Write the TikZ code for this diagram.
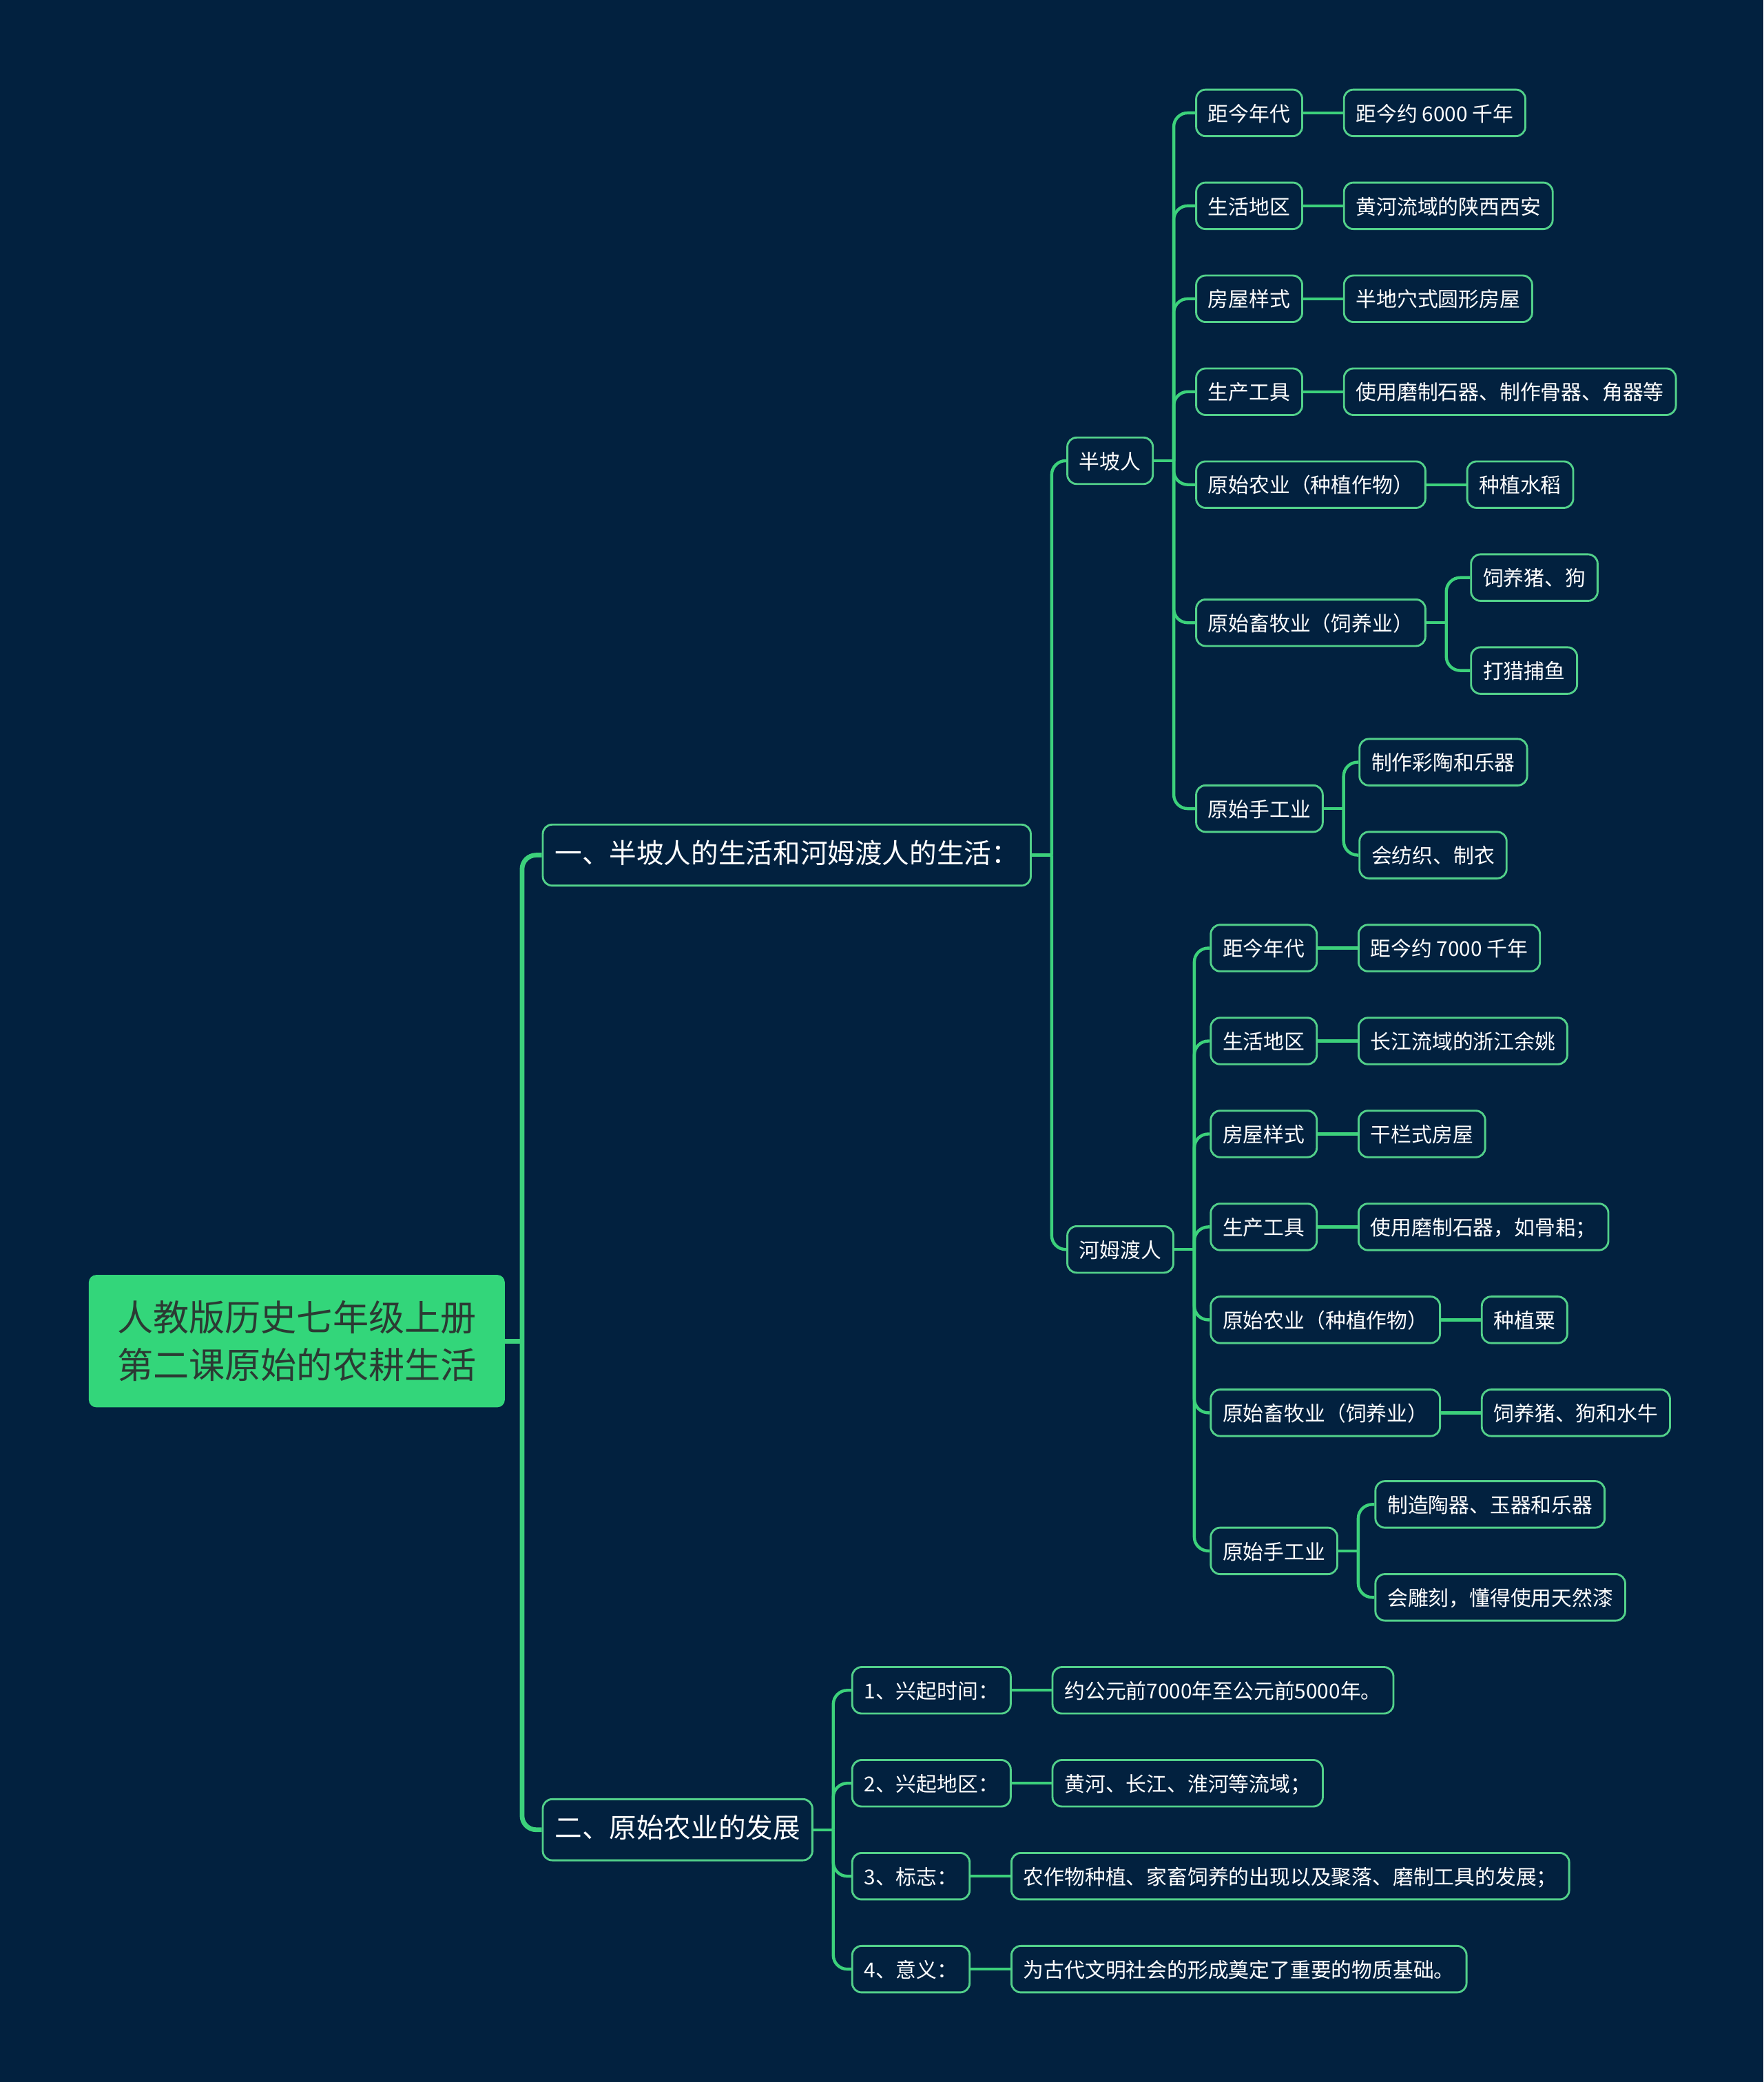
\documentclass[tikz,border=0pt]{standalone}
\usepackage{fontspec}
\setmainfont{Noto Sans CJK SC}
\usepackage{tikz}
\usetikzlibrary{positioning}
\definecolor{bg}{HTML}{02213F}
\definecolor{lnk}{HTML}{3CD17B}
\definecolor{rim}{HTML}{52D08A}
\definecolor{rootfill}{HTML}{33D67A}
\definecolor{roottext}{HTML}{2B3A33}
\tikzset{
  root/.style={fill=rootfill, draw=rootfill, rounded corners=3pt, text=roottext, align=center,
               font=\fontsize{15.4}{20.5}\selectfont, inner xsep=0.42cm, minimum height=1.98cm},
  sect/.style={draw=rim, line width=0.85pt, rounded corners=4pt, text=white, anchor=west,
               font=\fontsize{11.7}{14}\selectfont, inner xsep=0.18cm, minimum height=0.92cm,
               text height=0.86em, text depth=0.14em},
  topic/.style={draw=rim, line width=0.85pt, rounded corners=4pt, text=white,
                font=\fontsize{8.8}{11}\selectfont, inner xsep=0.18cm, minimum height=0.7cm,
                text height=0.86em, text depth=0.14em},
  key/.style={topic, anchor=west},
  l/.style={draw=lnk, line width=1.3pt, rounded corners=6pt},
  lroot/.style={l, line width=2pt},
}

\begin{document}
\begin{tikzpicture}[x=0.02cm, y=-0.02cm, node distance=6mm]
  \fill[bg] (0,0) rectangle (1328,1568);
  \useasboundingbox (0,0) rectangle (1328,1568);

  \node[root] (root) at (223.5,1010) {人教版历史七年级上册\\第二课原始的农耕生活};
  \node[sect] (s1) at (408,644) {一、半坡人的生活和河姆渡人的生活：};
  \node[sect] (s2) at (408,1378) {二、原始农业的发展};
  \draw[lroot] (root.east) -- ++(13,0) coordinate (rootj);
  \draw[lroot] (rootj) |- (s1.west);
  \draw[lroot] (rootj) |- (s2.west);

  % 半坡人 / 河姆渡人
  \node[key] (bp) at (803,347) {半坡人};
  \node[key] (hm) at (803,941) {河姆渡人};
  \draw[l] (s1.east) -- ++(15,0) coordinate (s1j);
  \draw[l] (s1j) |- (bp.west);
  \draw[l] (s1j) |- (hm.west);

  % 半坡人
  \node[key] (bp1) at (900,85) {距今年代};
  \node[key] (bp2) at (900,155) {生活地区};
  \node[key] (bp3) at (900,225) {房屋样式};
  \node[key] (bp4) at (900,295) {生产工具};
  \node[key] (bp5) at (900,365) {原始农业（种植作物）};
  \node[key] (bp6) at (900,469) {原始畜牧业（饲养业）};
  \node[key] (bp7) at (900,609) {原始手工业};
  \draw[l] (bp.east) -- ++(15,0) coordinate (bpj);
  \draw[l] (bpj) |- (bp1.west);
  \draw[l] (bpj) |- (bp2.west);
  \draw[l] (bpj) |- (bp3.west);
  \draw[l] (bpj) |- (bp4.west);
  \draw[l] (bpj) |- (bp5.west);
  \draw[l] (bpj) |- (bp6.west);
  \draw[l] (bpj) |- (bp7.west);
  \node[topic, right=of bp1] (bp1v) {距今约 6000 千年};
  \node[topic, right=of bp2] (bp2v) {黄河流域的陕西西安};
  \node[topic, right=of bp3] (bp3v) {半地穴式圆形房屋};
  \node[topic, right=of bp4] (bp4v) {使用磨制石器、制作骨器、角器等};
  \node[topic, right=of bp5] (bp5v) {种植水稻};
  \draw[l] (bp1) -- (bp1v);
  \draw[l] (bp2) -- (bp2v);
  \draw[l] (bp3) -- (bp3v);
  \draw[l] (bp4) -- (bp4v);
  \draw[l] (bp5) -- (bp5v);
  \node[key] (bp6a) at (1107,435) {饲养猪、狗};
  \node[key] (bp6b) at (1107,505) {打猎捕鱼};
  \draw[l] (bp6.east) -- ++(15,0) coordinate (bp6j);
  \draw[l] (bp6j) |- (bp6a.west);
  \draw[l] (bp6j) |- (bp6b.west);
  \node[key] (bp7a) at (1023,574) {制作彩陶和乐器};
  \node[key] (bp7b) at (1023,644) {会纺织、制衣};
  \draw[l] (bp7.east) -- ++(15,0) coordinate (bp7j);
  \draw[l] (bp7j) |- (bp7a.west);
  \draw[l] (bp7j) |- (bp7b.west);

  % 河姆渡人
  \node[key] (hm1) at (911,714) {距今年代};
  \node[key] (hm2) at (911,784) {生活地区};
  \node[key] (hm3) at (911,854) {房屋样式};
  \node[key] (hm4) at (911,924) {生产工具};
  \node[key] (hm5) at (911,994) {原始农业（种植作物）};
  \node[key] (hm6) at (911,1064) {原始畜牧业（饲养业）};
  \node[key] (hm7) at (911,1168) {原始手工业};
  \draw[l] (hm.east) -- ++(15,0) coordinate (hmj);
  \draw[l] (hmj) |- (hm1.west);
  \draw[l] (hmj) |- (hm2.west);
  \draw[l] (hmj) |- (hm3.west);
  \draw[l] (hmj) |- (hm4.west);
  \draw[l] (hmj) |- (hm5.west);
  \draw[l] (hmj) |- (hm6.west);
  \draw[l] (hmj) |- (hm7.west);
  \node[topic, right=of hm1] (hm1v) {距今约 7000 千年};
  \node[topic, right=of hm2] (hm2v) {长江流域的浙江余姚};
  \node[topic, right=of hm3] (hm3v) {干栏式房屋};
  \node[topic, right=of hm4] (hm4v) {使用磨制石器，如骨耜；};
  \node[topic, right=of hm5] (hm5v) {种植粟};
  \node[topic, right=of hm6] (hm6v) {饲养猪、狗和水牛};
  \draw[l] (hm1) -- (hm1v);
  \draw[l] (hm2) -- (hm2v);
  \draw[l] (hm3) -- (hm3v);
  \draw[l] (hm4) -- (hm4v);
  \draw[l] (hm5) -- (hm5v);
  \draw[l] (hm6) -- (hm6v);
  \node[key] (hm7a) at (1035,1133) {制造陶器、玉器和乐器};
  \node[key] (hm7b) at (1035,1203) {会雕刻，懂得使用天然漆};
  \draw[l] (hm7.east) -- ++(15,0) coordinate (hm7j);
  \draw[l] (hm7j) |- (hm7a.west);
  \draw[l] (hm7j) |- (hm7b.west);

  % 原始农业的发展
  \node[key] (ag1) at (641,1273) {1、兴起时间：};
  \node[key] (ag2) at (641,1343) {2、兴起地区：};
  \node[key] (ag3) at (641,1413) {3、标志：};
  \node[key] (ag4) at (641,1483) {4、意义：};
  \draw[l] (s2.east) -- ++(15,0) coordinate (s2j);
  \draw[l] (s2j) |- (ag1.west);
  \draw[l] (s2j) |- (ag2.west);
  \draw[l] (s2j) |- (ag3.west);
  \draw[l] (s2j) |- (ag4.west);
  \node[topic, right=of ag1] (ag1v) {约公元前7000年至公元前5000年。};
  \node[topic, right=of ag2] (ag2v) {黄河、长江、淮河等流域；};
  \node[topic, right=of ag3] (ag3v) {农作物种植、家畜饲养的出现以及聚落、磨制工具的发展；};
  \node[topic, right=of ag4] (ag4v) {为古代文明社会的形成奠定了重要的物质基础。};
  \draw[l] (ag1) -- (ag1v);
  \draw[l] (ag2) -- (ag2v);
  \draw[l] (ag3) -- (ag3v);
  \draw[l] (ag4) -- (ag4v);
\end{tikzpicture}
\end{document}
